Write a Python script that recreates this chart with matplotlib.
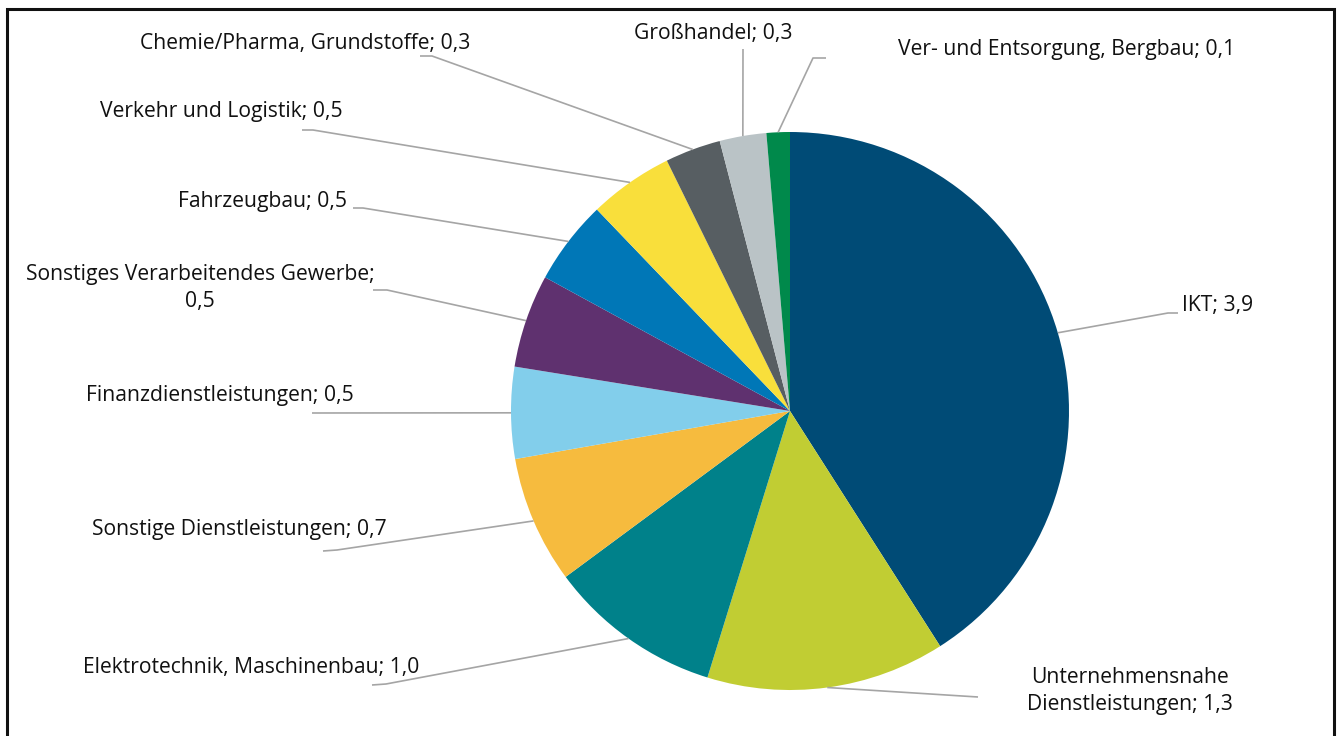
import matplotlib
matplotlib.use("Agg")
import matplotlib.pyplot as plt
import numpy as np
from matplotlib.patches import Rectangle

# ---------------- data ----------------
categories = [
    "IKT",
    "Unternehmensnahe\nDienstleistungen",
    "Elektrotechnik, Maschinenbau",
    "Sonstige Dienstleistungen",
    "Finanzdienstleistungen",
    "Sonstiges Verarbeitendes Gewerbe",
    "Fahrzeugbau",
    "Verkehr und Logistik",
    "Chemie/Pharma, Grundstoffe",
    "Großhandel",
    "Ver- und Entsorgung, Bergbau",
]
values = [3.94, 1.33, 0.97, 0.71, 0.51, 0.52, 0.47, 0.47, 0.31, 0.26, 0.13]
colors = [
    "#004B76", "#C1CD33", "#00818A", "#F6BB3E", "#82CEEB", "#5F316F",
    "#0077B7", "#F9DF3B", "#575E62", "#BAC3C6", "#00894B",
]
separators = ["; ", "; ", "; ", "; ", "; ", ";\n", "; ", "; ", "; ", "; ", "; "]

# ---------------- layout (pixel coordinates, y down) ----------------
W, H = 1340, 736
CX, CY, R = 790, 411, 279
# text anchor, horizontal alignment, elbow point, end point of leader
layout = [
    ((1182, 306), "left",   (1168, 313), (1178, 313)),
    ((1130, 691), "center", (978, 697), None),
    ((419, 668),  "right",  (386, 684), (372, 685)),
    ((387, 529),  "right",  (337, 550), (323, 551)),
    ((354, 395),  "right",  (312, 413), None),
    ((200, 288),  "center", (387, 290), (373, 290)),
    ((347, 201),  "right",  (363, 208), (353, 208)),
    ((343, 112),  "right",  (313, 130), (302, 130)),
    ((470, 44),   "right",  (432, 56), (420, 56)),
    ((713, 33),   "center", (743, 49), None),
    ((898, 49),   "left",   (813, 58), (826, 58)),
]

plt.rcParams["font.family"] = ["Open Sans", "DejaVu Sans"]

fig = plt.figure(figsize=(W / 100, H / 100), dpi=100)
ax = fig.add_axes([0, 0, 1, 1])

wedges, _ = ax.pie(
    values, colors=colors, startangle=90, counterclock=False,
    center=(CX, H - CY), radius=R, wedgeprops=dict(linewidth=0),
)
ax.set_xlim(0, W)
ax.set_ylim(0, H)
ax.set_aspect("equal")
ax.axis("off")

lc = "#A5A5A5"
for w, name, val, sep, (tpos, ha, elbow, end) in zip(
        wedges, categories, values, separators, layout):
    mid = np.deg2rad((w.theta1 + w.theta2) / 2)
    ex = CX + R * np.cos(mid)
    ey = (H - CY) + R * np.sin(mid)
    xs = [ex, elbow[0]]
    ys = [ey, H - elbow[1]]
    if end is not None:
        xs.append(end[0])
        ys.append(H - end[1])
    ax.plot(xs, ys, color=lc, lw=1.2, solid_capstyle="butt")
    label = f"{name}{sep}{val:.1f}".replace(".", ",")
    ax.text(tpos[0], H - tpos[1], label, ha=ha, va="center",
            multialignment="center", fontsize=15.2, color="#111111",
            linespacing=1.42)

# frame around chart
fig.patches.append(Rectangle((7, 0 - 20), 1327, H - 9 + 20,
                             transform=None, fill=False,
                             edgecolor="#111111", linewidth=2.2))

fig.savefig("out.png", dpi=100, facecolor="white")
